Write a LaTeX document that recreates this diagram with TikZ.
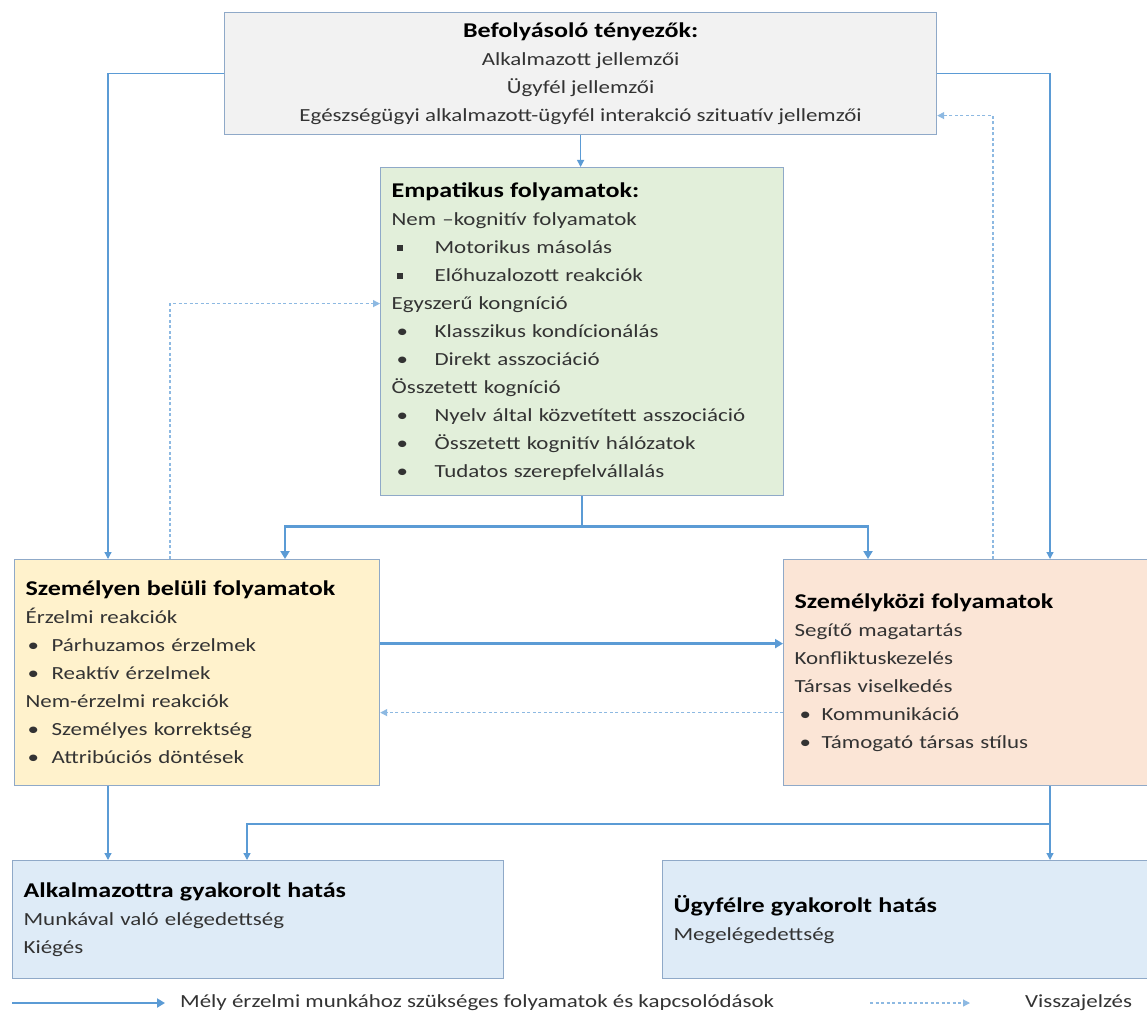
\documentclass[tikz,border=0pt]{standalone}
\usepackage{fontspec}
\setmainfont{Carlito}[FakeStretch=1.24]
\usetikzlibrary{arrows.meta}
\definecolor{bord}{HTML}{8FA9C8}
\definecolor{arr}{HTML}{5B9BD5}
\definecolor{dotc}{HTML}{8DB9E2}
\definecolor{greyf}{HTML}{F2F2F2}
\definecolor{greenf}{HTML}{E2EFDA}
\definecolor{yellf}{HTML}{FFF2CC}
\definecolor{orf}{HTML}{FBE5D6}
\definecolor{bluef}{HTML}{DEEBF7}
\definecolor{txt}{HTML}{333333}
\newcommand{\ttl}[1]{{\fontsize{21}{28}\selectfont\bfseries\color{black}#1}}
\newcommand{\bl}[3]{\hspace*{#1}\makebox[#2][l]{•}#3}
\newcommand{\sq}[3]{\hspace*{#1}\makebox[#2][l]{\raisebox{2.5pt}{\rule{6pt}{6pt}}}#3}
\begin{document}
\begin{tikzpicture}[x=1pt,y=-1pt,
  box/.style={draw=bord, line width=1.2pt, inner xsep=11pt, inner ysep=0pt, anchor=north west,
    font=\fontsize{18.5}{28}\selectfont, text=txt},
  thinar/.style={draw=arr, line width=1.3pt, -{Triangle[width=7pt,length=7pt]}},
  thickar/.style={draw=arr, line width=2.6pt, -{Triangle[width=9pt,length=8pt]}},
  dotar/.style={draw=dotc, line width=1.2pt, dash pattern=on 3pt off 2.5pt, -{Triangle[width=7pt,length=7pt]}}]
\useasboundingbox (0,0) rectangle (1147,1019);
\fill[white] (0,0) rectangle (1147,1019);

\node[box, fill=greyf, minimum width=712pt, minimum height=122pt, align=center] (top) at (224,12)
  {\ttl{Befolyásoló tényezők:}\\Alkalmazott jellemzői\\Ügyfél jellemzői\\Egészségügyi alkalmazott-ügyfél interakció szituatív jellemzői};

\node[box, fill=greenf, minimum width=403pt, minimum height=328pt, text width=381pt, align=left] (grn) at (380,167)
  {\ttl{Empatikus folyamatok:}\\Nem –kognitív folyamatok\\
   \sq{5pt}{38pt}{Motorikus másolás}\\
   \sq{5pt}{38pt}{Előhuzalozott reakciók}\\
   Egyszerű kongníció\\
   \bl{5pt}{38pt}{Klasszikus kondícionálás}\\
   \bl{5pt}{38pt}{Direkt asszociáció}\\
   Összetett kogníció\\
   \bl{5pt}{38pt}{Nyelv által közvetített asszociáció}\\
   \bl{5pt}{38pt}{Összetett kognitív hálózatok}\\
   \bl{5pt}{38pt}{Tudatos szerepfelvállalás}};

\node[box, fill=yellf, minimum width=365pt, minimum height=226pt, text width=343pt, align=left] (yel) at (14,559)
  {\ttl{Személyen belüli folyamatok}\\Érzelmi reakciók\\
   \bl{2pt}{24pt}{Párhuzamos érzelmek}\\
   \bl{2pt}{24pt}{Reaktív érzelmek}\\
   Nem-érzelmi reakciók\\
   \bl{2pt}{24pt}{Személyes korrektség}\\
   \bl{2pt}{24pt}{Attribúciós döntések}};

\node[box, fill=orf, minimum width=364pt, minimum height=226pt, text width=342pt, align=left] (ora) at (783,559)
  {\ttl{Személyközi folyamatok}\\Segítő magatartás\\Konfliktuskezelés\\Társas viselkedés\\
   \bl{5pt}{22pt}{Kommunikáció}\\
   \bl{5pt}{22pt}{Támogató társas stílus}};

\node[box, fill=bluef, minimum width=491pt, minimum height=118pt, text width=469pt, align=left] (bleft) at (12,860)
  {\ttl{Alkalmazottra gyakorolt hatás}\\Munkával való elégedettség\\Kiégés};

\node[box, fill=bluef, minimum width=485pt, minimum height=118pt, text width=463pt, align=left] (bright) at (662,860)
  {\ttl{Ügyfélre gyakorolt hatás}\\Megelégedettség};

% connectors
\draw[thinar] (top.west) -| ([xshift=94pt]yel.north west);
\draw[thinar] (top.east) -| ([xshift=267pt]ora.north west);
\draw[thinar] (top.south) -- (top.south |- grn.north);
\draw[thickar] (grn.south) -- ++(0,30) -| ([xshift=271pt]yel.north west);
\draw[thickar] (grn.south) -- ++(0,30) -| ([xshift=85pt]ora.north west);
\draw[dotar] ([xshift=156pt]yel.north west) |- ([yshift=28pt]grn.west);
\draw[dotar] ([xshift=210pt]ora.north west) |- ([yshift=-42pt]top.east);
\draw[thickar] ([yshift=29pt]yel.east) -- ([yshift=29pt]ora.west);
\draw[dotar] ([yshift=-40pt]ora.west) -- ([yshift=-40pt]yel.east);
\draw[thinar] ([xshift=94pt]yel.south west) -- ([xshift=96pt]bleft.north west);
\draw[thinar] ([xshift=267pt]ora.south west) -- ([xshift=388pt]bright.north west);
\coordinate (j) at (1050,824);
\draw[thinar] (j) -| ([xshift=235pt]bleft.north west);

% legend
\coordinate (la) at (12,1003);
\coordinate (lb) at (165,1003);
\coordinate (lc) at (870,1003);
\coordinate (ld) at (970,1003);
\draw[thickar] (la) -- (lb);
\draw[dotar] (lc) -- (ld);
\node[anchor=west, font=\fontsize{18.5}{20}\selectfont, text=txt, inner sep=0pt] (lt1) at (180,1003) {Mély érzelmi munkához szükséges folyamatok és kapcsolódások};
\node[anchor=west, font=\fontsize{18.5}{20}\selectfont, text=txt, inner sep=0pt] (lt2) at (1025,1003) {Visszajelzés};
\end{tikzpicture}
\end{document}
